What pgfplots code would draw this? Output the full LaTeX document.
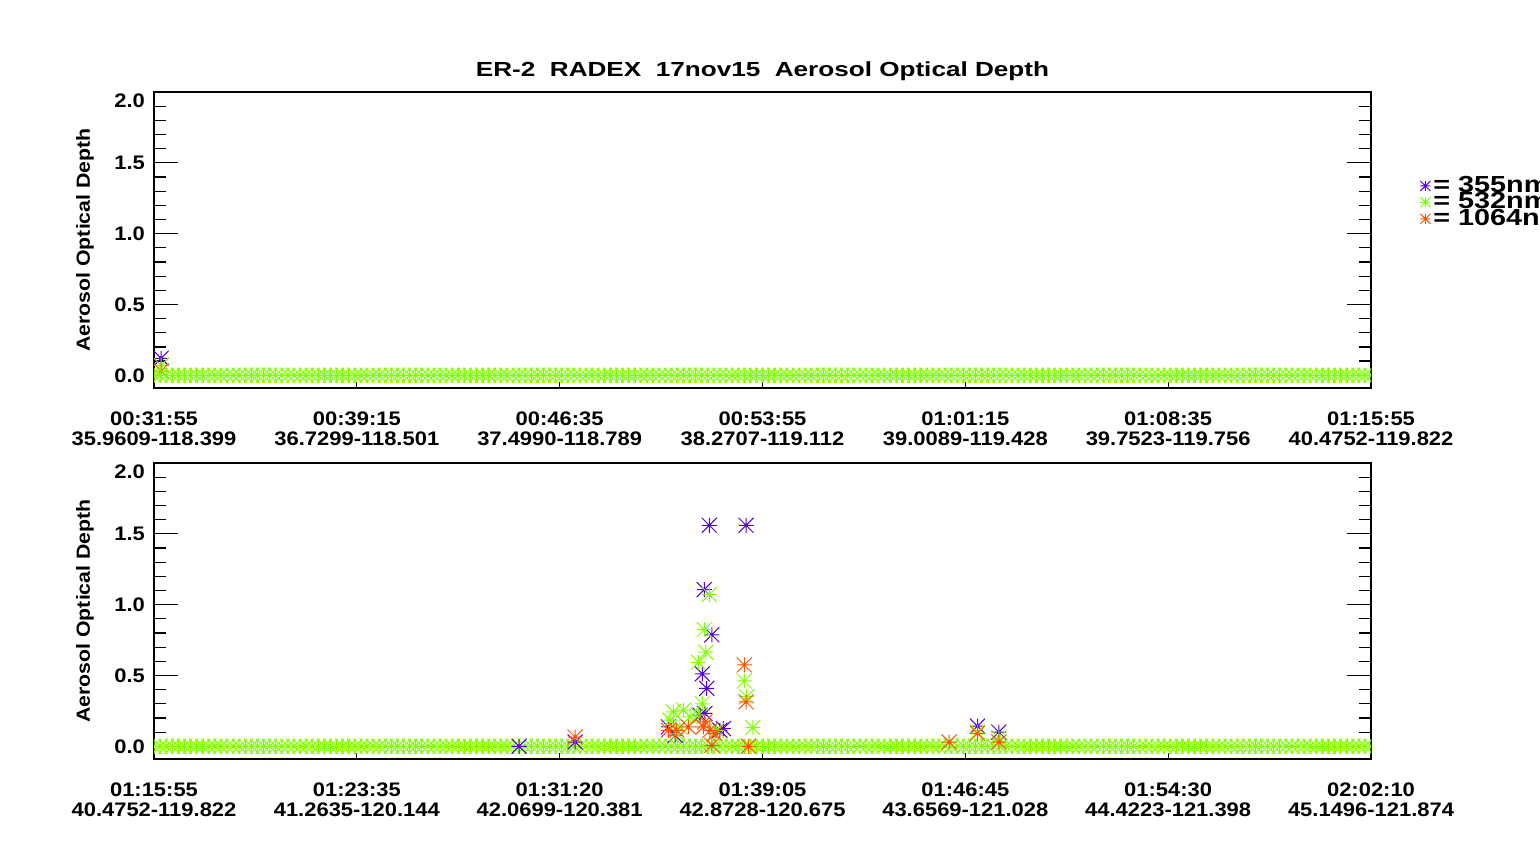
\documentclass[border=0pt]{standalone}
\usepackage{pgfplots}
\pgfplotsset{compat=1.18}
\usepackage{pgfplotstable}
\usepackage{fontspec}
\setmainfont{Liberation Sans}
\newfontfamily\tickfont{Liberation Sans}[FakeStretch=1.12]
\newfontfamily\titlefont{Liberation Sans}[FakeStretch=1.28]
\newfontfamily\legfont{Liberation Sans}[FakeStretch=1.24]

\definecolor{c355}{RGB}{85,0,220}
\definecolor{c532}{RGB}{128,255,0}
\definecolor{c1064}{RGB}{255,85,0}

\pgfdeclareplotmark{ast8}{%
  \pgfpathmoveto{\pgfqpoint{-\pgfplotmarksize}{0pt}}\pgfpathlineto{\pgfqpoint{\pgfplotmarksize}{0pt}}%
  \pgfpathmoveto{\pgfqpoint{0pt}{-\pgfplotmarksize}}\pgfpathlineto{\pgfqpoint{0pt}{\pgfplotmarksize}}%
  \pgfpathmoveto{\pgfqpoint{-\pgfplotmarksize}{-\pgfplotmarksize}}\pgfpathlineto{\pgfqpoint{\pgfplotmarksize}{\pgfplotmarksize}}%
  \pgfpathmoveto{\pgfqpoint{-\pgfplotmarksize}{\pgfplotmarksize}}\pgfpathlineto{\pgfqpoint{\pgfplotmarksize}{-\pgfplotmarksize}}%
  \pgfusepathqstroke}

% dense near-zero 532 nm retrievals (band along the bottom)
\pgfplotstableread[row sep=\\]{
x y\\
0.00 0\\ 0.03 0\\ 0.06 0\\ 0.09 0\\ 0.12 0\\ 0.15 0\\ 0.18 0\\ 0.21 0\\ 0.24 0\\ 0.27 0\\
0.30 0\\ 0.33 0\\ 0.36 0\\ 0.39 0\\ 0.42 0\\ 0.45 0\\ 0.48 0\\ 0.51 0\\ 0.54 0\\ 0.57 0\\
0.60 0\\ 0.63 0\\ 0.66 0\\ 0.69 0\\ 0.72 0\\ 0.75 0\\ 0.78 0\\ 0.81 0\\ 0.84 0\\ 0.87 0\\
0.90 0\\ 0.93 0\\ 0.96 0\\ 0.99 0\\ 1.02 0\\ 1.05 0\\ 1.08 0\\ 1.11 0\\ 1.14 0\\ 1.17 0\\
1.20 0\\ 1.23 0\\ 1.26 0\\ 1.29 0\\ 1.32 0\\ 1.35 0\\ 1.38 0\\ 1.41 0\\ 1.44 0\\ 1.47 0\\
1.50 0\\ 1.53 0\\ 1.56 0\\ 1.59 0\\ 1.62 0\\ 1.65 0\\ 1.68 0\\ 1.71 0\\ 1.74 0\\ 1.77 0\\
1.80 0\\ 1.83 0\\ 1.86 0\\ 1.89 0\\ 1.92 0\\ 1.95 0\\ 1.98 0\\ 2.01 0\\ 2.04 0\\ 2.07 0\\
2.10 0\\ 2.13 0\\ 2.16 0\\ 2.19 0\\ 2.22 0\\ 2.25 0\\ 2.28 0\\ 2.31 0\\ 2.34 0\\ 2.37 0\\
2.40 0\\ 2.43 0\\ 2.46 0\\ 2.49 0\\ 2.52 0\\ 2.55 0\\ 2.58 0\\ 2.61 0\\ 2.64 0\\ 2.67 0\\
2.70 0\\ 2.73 0\\ 2.76 0\\ 2.79 0\\ 2.82 0\\ 2.85 0\\ 2.88 0\\ 2.91 0\\ 2.94 0\\ 2.97 0\\
3.00 0\\ 3.03 0\\ 3.06 0\\ 3.09 0\\ 3.12 0\\ 3.15 0\\ 3.18 0\\ 3.21 0\\ 3.24 0\\ 3.27 0\\
3.30 0\\ 3.33 0\\ 3.36 0\\ 3.39 0\\ 3.42 0\\ 3.45 0\\ 3.48 0\\ 3.51 0\\ 3.54 0\\ 3.57 0\\
3.60 0\\ 3.63 0\\ 3.66 0\\ 3.69 0\\ 3.72 0\\ 3.75 0\\ 3.78 0\\ 3.81 0\\ 3.84 0\\ 3.87 0\\
3.90 0\\ 3.93 0\\ 3.96 0\\ 3.99 0\\ 4.02 0\\ 4.05 0\\ 4.08 0\\ 4.11 0\\ 4.14 0\\ 4.17 0\\
4.20 0\\ 4.23 0\\ 4.26 0\\ 4.29 0\\ 4.32 0\\ 4.35 0\\ 4.38 0\\ 4.41 0\\ 4.44 0\\ 4.47 0\\
4.50 0\\ 4.53 0\\ 4.56 0\\ 4.59 0\\ 4.62 0\\ 4.65 0\\ 4.68 0\\ 4.71 0\\ 4.74 0\\ 4.77 0\\
4.80 0\\ 4.83 0\\ 4.86 0\\ 4.89 0\\ 4.92 0\\ 4.95 0\\ 4.98 0\\ 5.01 0\\ 5.04 0\\ 5.07 0\\
5.10 0\\ 5.13 0\\ 5.16 0\\ 5.19 0\\ 5.22 0\\ 5.25 0\\ 5.28 0\\ 5.31 0\\ 5.34 0\\ 5.37 0\\
5.40 0\\ 5.43 0\\ 5.46 0\\ 5.49 0\\ 5.52 0\\ 5.55 0\\ 5.58 0\\ 5.61 0\\ 5.64 0\\ 5.67 0\\
5.70 0\\ 5.73 0\\ 5.76 0\\ 5.79 0\\ 5.82 0\\ 5.85 0\\ 5.88 0\\ 5.91 0\\ 5.94 0\\ 5.97 0\\
6.00 0\\
}\band

\pgfplotsset{
  aodaxis/.style={
    scale only axis, width=608.5pt, height=148pt,
    xmin=0, xmax=6, ymin=-0.09, ymax=2.0,
    xtick={0,1,2,3,4,5,6},
    ytick={0,0.5,1,1.5,2},
    yticklabels={0.0,0.5,1.0,1.5,\raisebox{-4.5pt}[\height][\depth]{2.0}},
    minor y tick num=4,
    xtick pos=bottom, ytick pos=both, tick align=inside,
    major tick length=12pt, minor tick length=6pt,
    xtick style={/pgfplots/major tick length=3pt},
    axis line style={line width=0.6pt},
    tick style={line width=0.6pt, black},
    ticklabel style={font=\tickfont\bfseries\fontsize{9.8}{10}\selectfont},
    xticklabel style={align=center, yshift=-8.2pt},
    yticklabel style={xshift=-1pt},
    ylabel={Aerosol Optical Depth},
    ylabel style={at={(axis description cs:-0.0567,0.5)}, anchor=center,
      font=\tickfont\bfseries\fontsize{9.5}{11}\selectfont},
    clip marker paths=true,
    mark size=3.75pt,
  },
  pts/.style={only marks, mark=ast8, line width=0.5pt, #1},
}

\begin{document}
\begin{tikzpicture}
\begin{axis}[aodaxis, at={(77pt,-194pt)}, anchor=south west,
  title={ER-2\ \ RADEX\ \ 17nov15\ \ Aerosol Optical Depth},
  title style={at={(axis description cs:0.5,1.0517)}, anchor=base, yshift=-6pt,
    font=\titlefont\bfseries\fontsize{10.2}{12}\selectfont},
  xticklabels={{00:31:55\\35.9609-118.399},{00:39:15\\36.7299-118.501},{00:46:35\\37.4990-118.789},{00:53:55\\38.2707-119.112},{01:01:15\\39.0089-119.428},{01:08:35\\39.7523-119.756},{01:15:55\\40.4752-119.822}},
  legend cell align=left,
  legend style={at={(axis description cs:1.0403,0.7196)}, anchor=north west,
    draw=none, fill=none, inner sep=0pt, row sep=-2.4pt,
    nodes={inner sep=0.5pt},
    font=\legfont\bfseries\fontsize{11.6}{12}\selectfont,
    /tikz/every odd column/.append style={column sep=1pt},
    /tikz/every even column/.append style={column sep=0pt}},
  legend image code/.code={\draw[mark repeat=2,mark phase=2,#1,mark size=2.5pt] plot coordinates {(-3pt,0pt)(0pt,0pt)(3pt,0pt)};},
]
\addplot[pts=c355] coordinates {(0.035,0.12)};
\addplot[pts=c532] coordinates {(0.035,0.07)};
\addplot[pts=c1064] coordinates {(0.035,0.03)};
\addplot[pts=c532, forget plot] table {\band};
\legend{= 355nm,= 532nm,= 1064nm}
\end{axis}

\begin{axis}[aodaxis, at={(77pt,-379.5pt)}, anchor=south west,
  xticklabels={{01:15:55\\40.4752-119.822},{01:23:35\\41.2635-120.144},{01:31:20\\42.0699-120.381},{01:39:05\\42.8728-120.675},{01:46:45\\43.6569-121.028},{01:54:30\\44.4223-121.398},{02:02:10\\45.1496-121.874}},
]
\addplot[pts=c532, forget plot] table {\band};
\addplot[pts=c355] coordinates {
 (1.80,0.0) (2.076,0.03) (2.536,0.137) (2.569,0.078) (2.692,0.22) (2.716,0.232)
 (2.790,0.113) (2.807,0.125) (2.703,0.511) (2.725,0.409) (2.750,0.787)
 (2.713,1.106) (2.738,1.56) (2.919,1.56) (4.06,0.142) (4.165,0.10)};
\addplot[pts=c532] coordinates {
 (2.544,0.184) (2.56,0.243) (2.577,0.09) (2.593,0.137) (2.61,0.255) (2.643,0.208)
 (2.684,0.22) (2.774,0.113) (2.703,0.30) (2.684,0.593) (2.721,0.664)
 (2.713,0.823) (2.738,1.071) (2.910,0.461) (2.922,0.35) (2.952,0.132)
 (4.06,0.10) (4.165,0.06)};
\addplot[pts=c1064] coordinates {
 (2.076,0.065) (2.536,0.113) (2.577,0.113) (2.634,0.137) (2.708,0.137) (2.716,0.172)
 (2.741,0.113) (2.766,0.09) (2.75,0.007) (2.910,0.574) (2.919,0.314) (2.93,0.0)
 (3.92,0.03) (4.06,0.09) (4.165,0.03)};
\end{axis}
\pgfresetboundingbox
\path[use as bounding box] (0,0) rectangle (770pt,-422.5pt);
\end{tikzpicture}
\end{document}
